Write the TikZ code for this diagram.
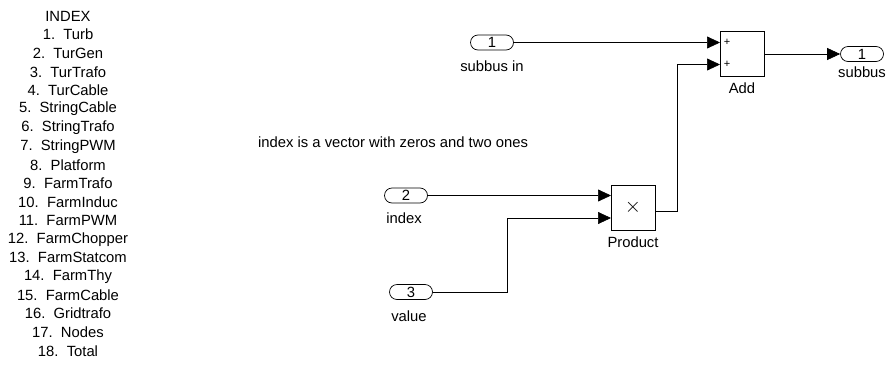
\documentclass[tikz,border=0pt]{standalone}
\usepackage{fontspec}
\setmainfont{Liberation Sans}
\usetikzlibrary{arrows.meta}
\begin{document}
\begin{tikzpicture}[x=1pt,y=-1pt,
  every node/.style={font=\fontsize{14.8}{17}\selectfont, inner sep=0pt},
  port/.style={draw, line width=0.7pt, minimum width=43pt, minimum height=15pt, rounded corners=7.5pt},
  blk/.style={draw, line width=0.7pt, minimum width=44pt, minimum height=45pt},
  sig/.style={line width=0.7pt, -{Triangle[length=13pt,width=12pt]}},
  sign/.style={font=\fontsize{11}{12}\selectfont},
  lbl/.style={anchor=center},
  idx/.style={anchor=center}]
\useasboundingbox (0,0) rectangle (891,367);

% index list
\node[idx] (ihead) at (68,16) {INDEX};
\foreach \i/\t in {1/Turb,2/TurGen,3/TurTrafo,4/TurCable,5/StringCable,6/StringTrafo,
  7/StringPWM,8/Platform,9/FarmTrafo,10/FarmInduc,11/FarmPWM,12/FarmChopper,
  13/FarmStatcom,14/FarmThy,15/FarmCable,16/Gridtrafo,17/Nodes,18/Total}
  \node[idx] (item\i) at (68,{16+18.6*\i}) {\i.\ \ \t};

% annotation
\node[anchor=west] (note) at (258,142) {index is a vector with zeros and two ones};

% inports and outport
\node[port] (in1) at (492,42.5) {1};
\node[lbl] (in1l) at (492,66) {subbus in};
\node[port] (in2) at (406,195.5) {2};
\node[lbl] (in2l) at (404,218) {index};
\node[port] (in3) at (411,292) {3};
\node[lbl] (in3l) at (409,316) {value};
\node[port] (out1) at (862,54) {1};
\node[lbl] (out1l) at (862,72) {subbus};

% blocks
\node[blk] (add) at (742,53.5) {};
\node[lbl] (addl) at (742,88) {Add};
\node[sign] (p1) at (727,42.5) {+};
\node[sign] (p2) at (727,64.5) {+};
\node[blk] (prod) at (633,207.5) {};
\node[font=\fontsize{22}{22}\selectfont] (times) at (633,207) {$\times$};
\node[lbl] (prodl) at (633,242) {Product};

% block input ports
\coordinate (a1) at (720,42.5);
\coordinate (a2) at (720,64.5);
\coordinate (m1) at (611,195.5);
\coordinate (m2) at (611,218);
\coordinate (j1) at (507,292);
\coordinate (j2) at (507,218);
\coordinate (k1) at (677,211);
\coordinate (k2) at (677,64.5);
\coordinate (pout) at (655,211);
\coordinate (aout) at (764,54);

% signals
\draw[sig] (in1.east) -- (a1);
\draw[sig] (in2.east) -- (m1);
\draw[sig] (in3.east) -- (j1) -- (j2) -- (m2);
\draw[sig] (pout) -- (k1) -- (k2) -- (a2);
\draw[sig] (aout) -- (out1.west);
\end{tikzpicture}
\end{document}
